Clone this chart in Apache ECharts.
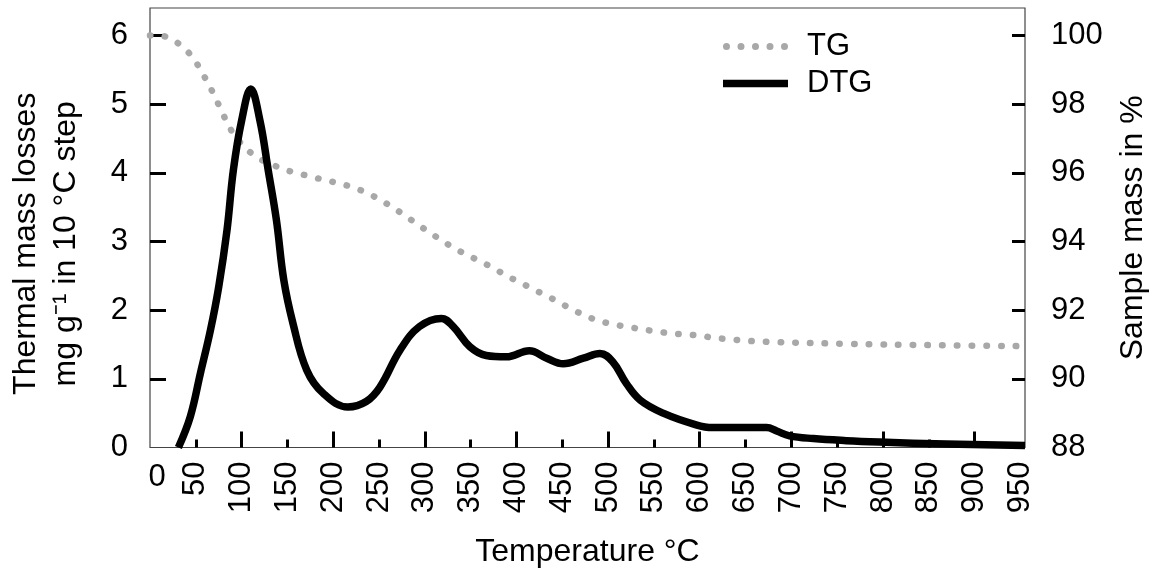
<!DOCTYPE html>
<html>
<head>
<meta charset="utf-8">
<script src="https://cdn.jsdelivr.net/npm/echarts@6/dist/echarts.min.js"></script>
<style>
html,body{margin:0;padding:0;background:#fff;}
#c{width:1152px;height:571px;}
</style>
</head>
<body>
<div id="c"></div>
<script>
// DTG: thermal mass losses (mg g^-1 in 10 °C step), left axis
const dtgTemp = [31, 44, 55, 66, 75, 84, 91, 100, 110, 120, 129, 138, 146, 156, 171, 189, 216, 236, 251, 273, 294, 318, 331, 349, 367, 389, 414, 433, 451, 473, 491, 505, 520, 535, 560, 596, 614, 633, 651, 673, 684, 698, 724, 760, 796, 869, 955];
const dtgVal  = [0, 0.45, 1.08, 1.71, 2.34, 3.16, 4.04, 4.76, 5.22, 4.76, 4.04, 3.31, 2.44, 1.81, 1.13, 0.79, 0.59, 0.67, 0.88, 1.42, 1.76, 1.88, 1.76, 1.47, 1.34, 1.32, 1.41, 1.30, 1.22, 1.30, 1.37, 1.25, 0.93, 0.69, 0.50, 0.33, 0.29, 0.29, 0.29, 0.29, 0.24, 0.17, 0.13, 0.10, 0.08, 0.05, 0.03];
// TG: sample mass in %, right axis
const tgTemp = [0, 9, 24, 37, 48, 56, 64, 71, 78, 85, 93, 104, 116, 131, 146, 161, 177, 192, 207, 223, 238, 252, 265, 279, 292, 306, 319, 333, 347, 361, 376, 389, 404, 418, 433, 447, 461, 476, 490, 505, 522, 538, 555, 570, 586, 602, 617, 634, 650, 665, 682, 760, 854, 955];
const tgVal  = [100, 100, 99.88, 99.63, 99.31, 98.95, 98.58, 98.2, 97.81, 97.42, 97.06, 96.74, 96.46, 96.27, 96.10, 95.99, 95.88, 95.78, 95.69, 95.56, 95.40, 95.20, 94.99, 94.74, 94.50, 94.25, 94.02, 93.79, 93.60, 93.41, 93.21, 93.00, 92.81, 92.61, 92.42, 92.22, 92.02, 91.83, 91.69, 91.59, 91.51, 91.44, 91.37, 91.32, 91.29, 91.25, 91.19, 91.15, 91.11, 91.09, 91.07, 91.02, 90.98, 90.95];
// tick labels / tick positions
const xLabels = [50,100,150,200,250,300,350,400,450,500,550,600,650,700,750,800,850,900,950];
const xMajorTicks = [100,200,300,400,500,600,700,800,900];
const xMinorTicks = [50,150,250,350,450,550,650,750,850];
const yLeftLabels = [0,1,2,3,4,5,6];
const yLeftTicks = [1,2,3,4,5,6];
const yRightLabels = [88,90,92,94,96,98,100];
const yRightTicks = [90,92,94,96,98,100];

const FONT = 'Liberation Sans, Arial, sans-serif';
// legend icon for the dotted TG line: five dots
const dotsIcon = 'path://M0,3.5a3.5,3.5 0 1,0 7,0a3.5,3.5 0 1,0 -7,0Z' +
  'M14.5,3.5a3.5,3.5 0 1,0 7,0a3.5,3.5 0 1,0 -7,0Z' +
  'M29,3.5a3.5,3.5 0 1,0 7,0a3.5,3.5 0 1,0 -7,0Z' +
  'M43.5,3.5a3.5,3.5 0 1,0 7,0a3.5,3.5 0 1,0 -7,0Z' +
  'M58,3.5a3.5,3.5 0 1,0 7,0a3.5,3.5 0 1,0 -7,0Z';

const chart = echarts.init(document.getElementById('c'), null, {renderer:'canvas'});
chart.setOption({
  backgroundColor:'#fff',
  animation:false,
  textStyle:{fontFamily:FONT, color:'#000'},
  grid:{left:150, right:127, top:8, bottom:123.5, show:true, borderColor:'#444', borderWidth:1.2, outerBoundsMode:'none', containLabel:false},
  legend:{
    orient:'vertical', left:723, top:31, padding:0,
    itemWidth:65, itemHeight:7.5, itemGap:6,
    itemStyle:{borderWidth:0},
    textStyle:{fontSize:31, fontFamily:FONT, color:'#000', padding:[0,0,0,14]},
    data:[{name:'TG', icon:dotsIcon}, {name:'DTG', icon:'rect'}]
  },
  xAxis:[{
    type:'value', min:0, max:955, position:'bottom',
    name:'Temperature °C', nameLocation:'middle', nameGap:89,
    nameTextStyle:{fontSize:32, fontFamily:FONT, color:'#000'},
    axisLine:{show:false, onZero:false},
    splitLine:{show:false},
    axisTick:{show:true, inside:true, length:16, customValues:xMajorTicks, lineStyle:{color:'#000', width:3}},
    axisLabel:{customValues:xLabels, rotate:90, fontSize:31, fontFamily:FONT, color:'#000', margin:14}
  },{
    type:'value', min:0, max:955, position:'bottom',
    axisLine:{show:false, onZero:false},
    splitLine:{show:false},
    axisTick:{show:true, inside:true, length:8, customValues:xMinorTicks, lineStyle:{color:'#000', width:3}},
    axisLabel:{customValues:[0], rotate:0, fontSize:31, fontFamily:FONT, color:'#000', margin:14, padding:[0,0,0,14]}
  }],
  yAxis:[{
    type:'value', min:0, max:6.4, position:'left',
    name:'Thermal mass losses\nmg g⁻¹ in 10 °C step', nameLocation:'middle', nameGap:64,
    nameTextStyle:{fontSize:32, fontFamily:FONT, color:'#000', lineHeight:40, padding:[0,32,0,0]},
    axisLine:{show:false, onZero:false},
    splitLine:{show:false},
    axisTick:{show:true, inside:true, length:16, customValues:yLeftTicks, lineStyle:{color:'#000', width:3}},
    axisLabel:{customValues:yLeftLabels, fontSize:31, fontFamily:FONT, color:'#000', margin:22}
  },{
    type:'value', min:88, max:100.8, position:'right',
    name:'Sample mass in %', nameLocation:'middle', nameGap:92,
    nameTextStyle:{fontSize:32, fontFamily:FONT, color:'#000'},
    axisLine:{show:false, onZero:false},
    splitLine:{show:false},
    axisTick:{show:true, inside:true, length:13, customValues:yRightTicks, lineStyle:{color:'#000', width:3}},
    axisLabel:{customValues:yRightLabels, fontSize:31, fontFamily:FONT, color:'#000', margin:26}
  }],
  series:[{
    name:'TG', type:'line', xAxisIndex:0, yAxisIndex:1,
    data: tgTemp.map((t,i)=>[t, tgVal[i]]),
    smooth:0.4, showSymbol:false, symbol:'none',
    lineStyle:{color:'#a8a8a8', width:6.5, type:[0.5,14.2], cap:'round'},
    itemStyle:{color:'#a8a8a8'},
    z:2
  },{
    name:'DTG', type:'line', xAxisIndex:0, yAxisIndex:0,
    data: dtgTemp.map((t,i)=>[t, dtgVal[i]]),
    smooth:0.4, showSymbol:false, symbol:'none',
    lineStyle:{color:'#000', width:7.5, cap:'butt', join:'round'},
    itemStyle:{color:'#000'},
    z:3
  }]
});
</script>
</body>
</html>
